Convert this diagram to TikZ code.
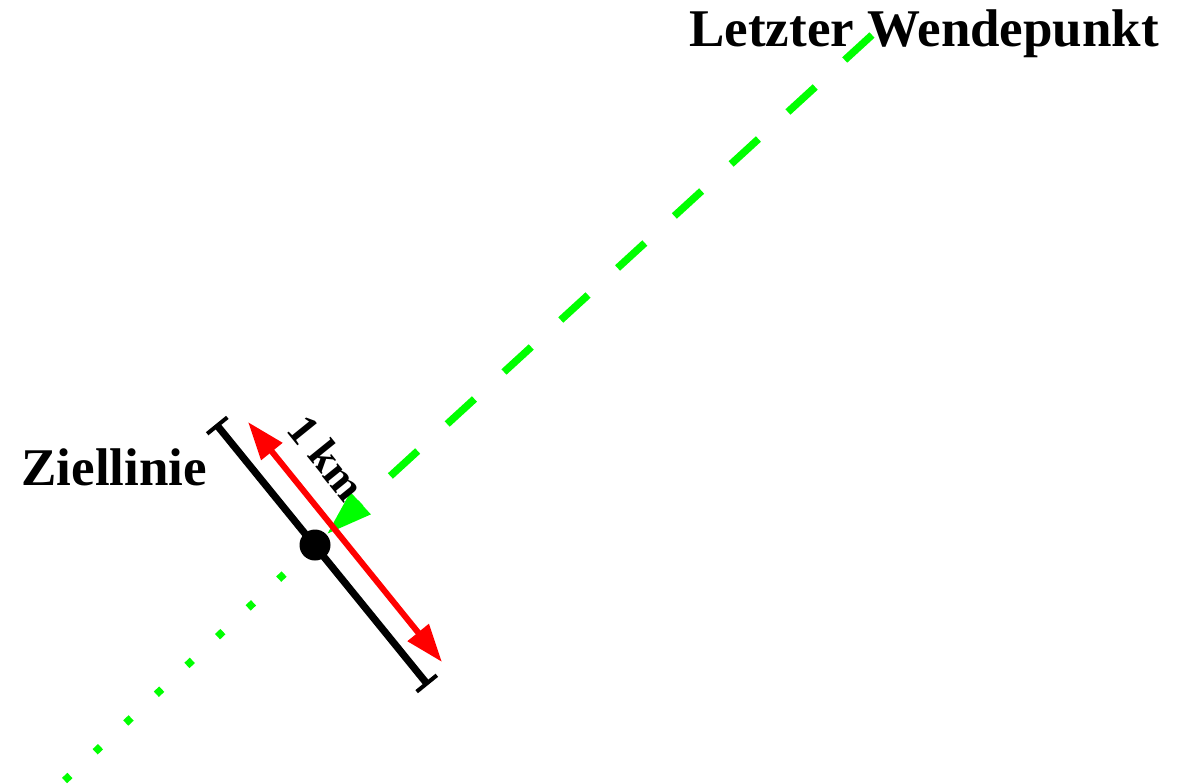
\documentclass[tikz,border=0pt]{standalone}
\usepackage{fontspec}
\setmainfont{Liberation Serif}
\usetikzlibrary{arrows.meta,calc}
\definecolor{kurs}{RGB}{0,255,0}
\definecolor{mass}{RGB}{255,0,0}

\begin{document}
\begin{tikzpicture}[
    x=0.5pt, y=-0.5pt,
    lbl/.style={font=\fontsize{26.5}{32}\selectfont\bfseries, inner sep=0pt, text=black},
    linie/.style={line width=3.6pt, black,
      {Bar[width=13pt,line width=2pt]}-{Bar[width=13pt,line width=2pt]}},
    anflug/.style={line width=3.7pt, kurs, dash pattern=on 18.5pt off 20pt,
      -{Triangle[length=23pt,width=14pt]}},
    auslauf/.style={line width=3.7pt, kurs, dash pattern=on 3.7pt off 17.3pt,
      dash phase=7.75pt},
    km/.style={line width=3pt, mass,
      {Triangle[length=19pt,width=13pt]}-{Triangle[length=19pt,width=13pt]}}
  ]
  \useasboundingbox (0,0) rectangle (1178,783);

  \coordinate (wende) at (872,35);
  \coordinate (ende) at (63,782);
  \coordinate (zl1) at (216,424);
  \coordinate (zl2) at (428,685);
  \coordinate (km1) at (248,422);
  \coordinate (km2) at (442,662);

  % Ziellinie mit Mittelpunkt
  \draw[linie] (zl1) -- (zl2);
  \node[circle, fill=black, inner sep=0pt, minimum size=15.5pt] (ziel) at (315,545) {};

  % Kurs
  \draw[anflug] (wende) -- (ziel);
  \draw[auslauf] (ziel) -- (ende);

  % Laenge
  \draw[km] (km1) -- (km2)
    node[pos=0.25, sloped, above=10.5pt, lbl, font=\fontsize{22}{26}\selectfont\bfseries] (kmtext) {1 km};

  \node[lbl, anchor=base west] (ziellinie) at (21,485) {Ziellinie};
  \node[lbl, anchor=base west] (wendepunkt) at (689,46) {Letzter Wendepunkt};
\end{tikzpicture}
\end{document}
